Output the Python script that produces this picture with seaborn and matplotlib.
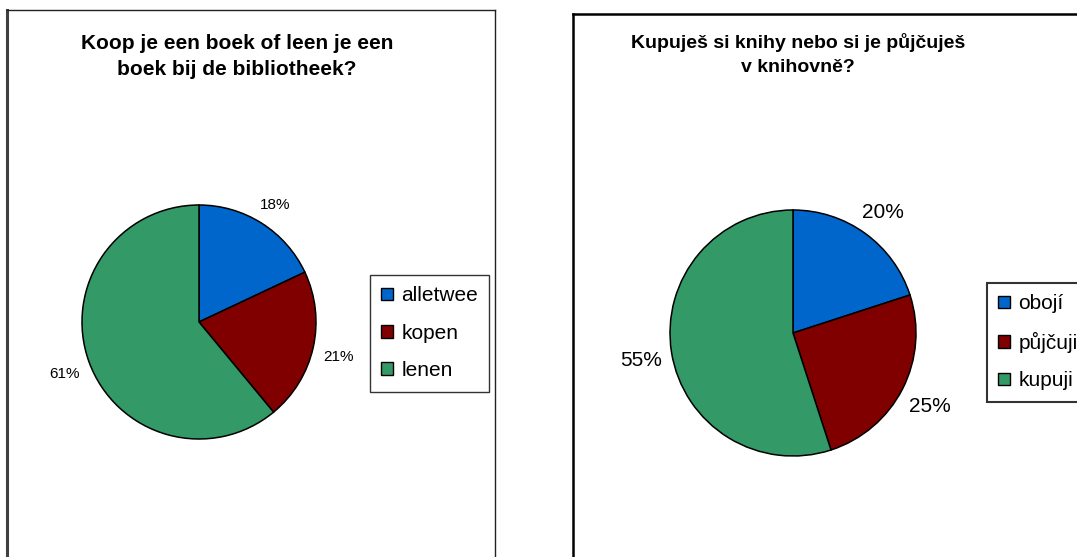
import seaborn as sns
import matplotlib.pyplot as plt
from matplotlib.patches import Patch

# Dutch survey panel
nl_title = "Koop je een boek of leen je een\nboek bij de bibliotheek?"
nl_labels = ["alletwee", "kopen", "lenen"]
nl_values = [18, 21, 61]

# Czech survey panel
cz_title = "Kupuješ si knihy nebo si je půjčuješ\nv knihovně?"
cz_labels = ["obojí", "půjčuji", "kupuji"]
cz_values = [20, 25, 55]

colors = ["#0066cc", "#800000", "#339966"]

W, H = 1077, 557

sns.set_theme(style="white")
plt.rcParams["font.family"] = ["Liberation Sans", "DejaVu Sans"]
plt.rcParams["text.color"] = "black"

fig = plt.figure(figsize=(W / 100, H / 100), dpi=100)


def px_axes(x, y, w, h):
    # x, y is the top-left corner in pixels
    return fig.add_axes([x / W, 1 - (y + h) / H, w / W, h / H])


def frame(x, y, w, h, left_lw, other_lw, left_color, other_color):
    ax = px_axes(x, y, w, h)
    ax.set_xticks([])
    ax.set_yticks([])
    ax.patch.set_alpha(0)
    ax.spines["bottom"].set_visible(False)
    ax.spines["left"].set_linewidth(left_lw)
    ax.spines["left"].set_color(left_color)
    for side in ["top", "right"]:
        ax.spines[side].set_linewidth(other_lw)
        ax.spines[side].set_color(other_color)
    ax.set_zorder(0)
    return ax


def pie_panel(cx, cy, r, values, pct_size, pct_dist):
    ax = px_axes(cx - r, cy - r, 2 * r, 2 * r)
    wedges, texts, pcts = ax.pie(
        values,
        colors=colors,
        startangle=90,
        counterclock=False,
        autopct="%1.0f%%",
        pctdistance=pct_dist,
        wedgeprops=dict(edgecolor="black", linewidth=1.1),
        textprops=dict(fontsize=pct_size, color="black"),
    )
    # labels sit a touch lower in the reference
    for t in pcts:
        x, y = t.get_position()
        t.set_position((x, y - 0.03))
    ax.set_xlim(-1, 1)
    ax.set_ylim(-1, 1)
    ax.set_zorder(1)
    return ax


def add_legend(labels, x, y, lw):
    handles = [Patch(facecolor=c, edgecolor="black", linewidth=1) for c in colors]
    leg = fig.legend(
        handles,
        labels,
        loc="upper left",
        bbox_to_anchor=(x / W, 1 - y / H),
        fontsize=15,
        frameon=True,
        fancybox=False,
        shadow=False,
        edgecolor="black",
        handlelength=0.55,
        handleheight=0.55,
        handletextpad=0.4,
        labelspacing=0.88,
        borderpad=0.55,
        borderaxespad=0,
    )
    leg.get_frame().set_linewidth(lw)
    return leg


# panel frames (bottom edge runs off the picture)
frame(7, 10, 488, 620, 2.2, 1.0, "#404040", "#222222")
frame(573, 14, 620, 620, 1.8, 1.8, "black", "black")

pie_panel(199, 322, 117, nl_values, 11, 1.22)
pie_panel(793, 333, 123, cz_values, 15, 1.25)

add_legend(nl_labels, 370, 275, 1.0)
add_legend(cz_labels, 987, 283, 1.5)

fig.text(237 / W, 1 - 56.5 / H, nl_title, ha="center", va="center",
         fontsize=15, fontweight="bold", linespacing=1.5, multialignment="center")
fig.text(798 / W, 1 - 54.5 / H, cz_title, ha="center", va="center",
         fontsize=14, fontweight="bold", linespacing=1.5, multialignment="center")

fig.savefig("out.png", dpi=100)
